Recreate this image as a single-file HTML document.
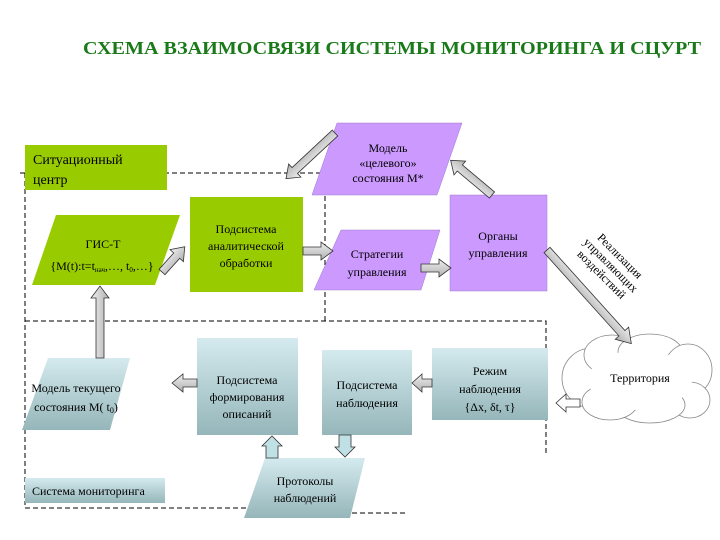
<!DOCTYPE html>
<html><head><meta charset="utf-8"><style>
html,body{margin:0;padding:0;background:#fff;}
svg{display:block;font-family:"Liberation Serif","Noto Serif CJK SC",serif;}
</style></head><body>
<svg width="720" height="540" viewBox="0 0 720 540" xmlns="http://www.w3.org/2000/svg">
<defs>
<linearGradient id="tg" x1="0" y1="0" x2="0" y2="1">
<stop offset="0" stop-color="#d4eaee"/><stop offset="1" stop-color="#95b6ba"/>
</linearGradient>
<linearGradient id="ag" x1="0" y1="0" x2="0" y2="1">
<stop offset="0" stop-color="#f0f0f0"/><stop offset="1" stop-color="#b0b0b0"/>
</linearGradient>
</defs>

<text x="392" y="54" text-anchor="middle" font-size="18" font-weight="bold" fill="#1a7a1a" textLength="618" lengthAdjust="spacingAndGlyphs">СХЕМА ВЗАИМОСВЯЗИ СИСТЕМЫ МОНИТОРИНГА И СЦУРТ</text>

<g fill="none" stroke="#000" stroke-width="1" stroke-dasharray="5,3">
<polyline points="20,173 325,173 325,321"/>
<line x1="25" y1="173" x2="25" y2="505"/>
<polyline points="25,321 546,321 546,455"/>
<line x1="25" y1="508" x2="280" y2="508"/>
<line x1="280" y1="513" x2="405" y2="513"/>
</g>

<rect x="25" y="145" width="142" height="45" fill="#99cc00"/>
<text x="33" y="164" font-size="14">Ситуационный</text>
<text x="33" y="184" font-size="14">центр</text>

<polygon points="56,215 180,215 155,285 32,285" fill="#99cc00"/>
<text x="103" y="248" font-size="12" text-anchor="middle">ГИС-Т</text>
<text x="102" y="270" font-size="12" text-anchor="middle">{M(t):t=t<tspan font-size="7" dy="2">нач</tspan><tspan dy="-2">,…, t</tspan><tspan font-size="7" dy="2">0</tspan><tspan dy="-2">,…}</tspan></text>

<rect x="190" y="197" width="113" height="95" fill="#99cc00"/>
<text x="246" y="233" font-size="12" text-anchor="middle">Подсистема</text>
<text x="246" y="250" font-size="12" text-anchor="middle">аналитической</text>
<text x="246" y="267" font-size="12" text-anchor="middle">обработки</text>

<polygon points="337,123 462,123 437,195 312,195" fill="#cc99ff" stroke="#9a7acc" stroke-width="0.5"/>
<text x="388" y="152" font-size="12" text-anchor="middle">Модель</text>
<text x="388" y="167" font-size="12" text-anchor="middle">«целевого»</text>
<text x="388" y="182" font-size="12" text-anchor="middle">состояния M*</text>

<polygon points="341,230 440,230 421,290 314,290" fill="#cc99ff" stroke="#9a7acc" stroke-width="0.5"/>
<text x="377" y="258" font-size="12" text-anchor="middle">Стратегии</text>
<text x="377" y="276" font-size="12" text-anchor="middle">управления</text>

<rect x="450" y="195" width="97" height="96" fill="#cc99ff" stroke="#9a7acc" stroke-width="0.5"/>
<text x="498" y="240" font-size="12" text-anchor="middle">Органы</text>
<text x="498" y="257" font-size="12" text-anchor="middle">управления</text>

<polygon points="48,358 130,358 110,430 22,430" fill="url(#tg)"/>
<text x="76" y="392" font-size="12" text-anchor="middle">Модель текущего</text>
<text x="76" y="411" font-size="12" text-anchor="middle">состояния M( t<tspan font-size="8" dy="2">0</tspan><tspan dy="-2">)</tspan></text>

<rect x="197" y="338" width="101" height="97" fill="url(#tg)"/>
<text x="247" y="384" font-size="12" text-anchor="middle">Подсистема</text>
<text x="247" y="401" font-size="12" text-anchor="middle">формирования</text>
<text x="247" y="418" font-size="12" text-anchor="middle">описаний</text>

<rect x="322" y="350" width="90" height="85" fill="url(#tg)"/>
<text x="367" y="389" font-size="12" text-anchor="middle">Подсистема</text>
<text x="367" y="407" font-size="12" text-anchor="middle">наблюдения</text>

<rect x="432" y="348" width="116" height="72" fill="url(#tg)"/>
<text x="490" y="375" font-size="12" text-anchor="middle">Режим</text>
<text x="490" y="393" font-size="12" text-anchor="middle">наблюдения</text>
<text x="490" y="411" font-size="12" text-anchor="middle">{Δx, δt, τ}</text>

<polygon points="265,458 365,458 350,518 244,518" fill="url(#tg)"/>
<text x="305" y="485" font-size="12" text-anchor="middle">Протоколы</text>
<text x="305" y="502" font-size="12" text-anchor="middle">наблюдений</text>

<rect x="25" y="478" width="140" height="25" fill="url(#tg)"/>
<text x="32" y="495" font-size="12">Система мониторинга</text>

<g fill="#fff" stroke="#888" stroke-width="0.8">
<ellipse cx="592" cy="378" rx="30" ry="30"/>
<ellipse cx="612" cy="355" rx="28" ry="20"/>
<ellipse cx="650" cy="352" rx="32" ry="18"/>
<ellipse cx="688" cy="370" rx="24" ry="26"/>
<ellipse cx="690" cy="400" rx="20" ry="18"/>
<ellipse cx="650" cy="405" rx="35" ry="18"/>
<ellipse cx="610" cy="402" rx="28" ry="18"/>
<ellipse cx="640" cy="380" rx="52" ry="30" stroke="none"/>
</g>
<text x="640" y="382" font-size="12" text-anchor="middle">Территория</text>

<g stroke="#333" stroke-width="0.8" fill="url(#ag)">
<polygon points="0,-4 22,-4 22,-9 34,0 22,9 22,4 0,4" transform="translate(162,272) rotate(-48)"/>
<polygon points="0,-4 18,-4 18,-9 30,0 18,9 18,4 0,4" transform="translate(303,251)"/>
<polygon points="0,-4 18,-4 18,-9 30,0 18,9 18,4 0,4" transform="translate(421,268)"/>
<polygon points="0,-4 55,-4 55,-9 67,0 55,9 55,4 0,4" transform="translate(335,133) rotate(137)"/>
<polygon points="0,-4 42,-4 42,-9 54,0 42,9 42,4 0,4" transform="translate(492,195) rotate(-140)"/>
<polygon points="0,-4 112,-4 112,-9 126,0 112,9 112,4 0,4" transform="translate(547,250) rotate(48)"/>
<polygon points="0,-4 -14,-4 -14,-9 -24,0 -14,9 -14,4 0,4" transform="translate(580,403)" fill="#fff"/>
<polygon points="0,-4 -10,-4 -10,-9 -20,0 -10,9 -10,4 0,4" transform="translate(432,383)"/>
<polygon points="0,-4 -14,-4 -14,-9 -25,0 -14,9 -14,4 0,4" transform="translate(197,383)"/>
<polygon points="0,-4 60,-4 60,-9 72,0 60,9 60,4 0,4" transform="translate(100,358) rotate(-90)"/>
<polygon points="0,-6 12,-6 12,-10 22,0 12,10 12,6 0,6" transform="translate(345,435) rotate(90)" fill="#bfe0e4"/>
<polygon points="0,-6 12,-6 12,-10 22,0 12,10 12,6 0,6" transform="translate(272,458) rotate(-90)" fill="#bfe0e4"/>
</g>

<text font-size="12" text-anchor="middle" transform="translate(608,268) rotate(45)">
<tspan x="0" y="-13">Реализация</tspan><tspan x="0" y="0">управляющих</tspan><tspan x="0" y="13">воздействий</tspan></text>
</svg>
</body></html>
